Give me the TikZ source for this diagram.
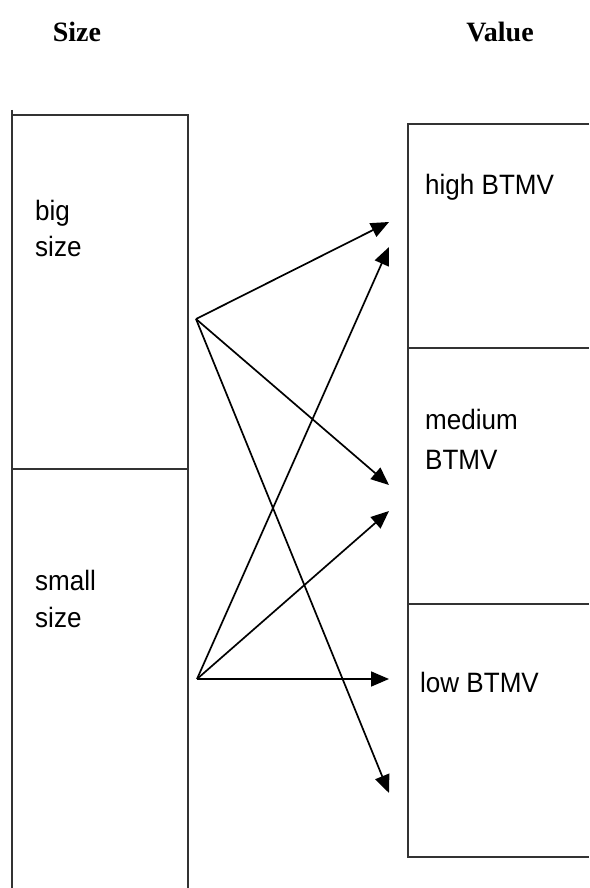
\documentclass[tikz,border=0pt]{standalone}
\usepackage{fontspec}
\setmainfont{Liberation Serif}
\newfontfamily\labelfont{Liberation Sans}
\usetikzlibrary{arrows.meta}
% narrow, tall label lettering
\newcommand{\narrowtext}[1]{\scalebox{0.93}[1]{#1}}
\begin{document}
\begin{tikzpicture}[x=1pt,y=-1pt,
  boxline/.style={line width=1.8pt,draw=black!80},
  link/.style={line width=1.7pt,-{Triangle[length=18pt,width=15pt]}},
  title/.style={font=\fontsize{28}{32}\selectfont\bfseries,anchor=base},
  cell/.style={font=\labelfont\fontsize{28}{32}\selectfont,anchor=base west,inner sep=0pt}]
\useasboundingbox (0,0) rectangle (589,888);

% column headings
\node[title] (hsize)  at (77,42)  {Size};
\node[title] (hvalue) at (500,42) {Value};

% size column (runs off the bottom edge)
\draw[boxline] (12,110) -- (12,888);
\draw[boxline] (12,115) -- (188,115) -- (188,888);
\draw[boxline] (12,469) -- (188,469);

% value column (runs off the right edge)
\draw[boxline] (589,124) -- (408,124) -- (408,857) -- (589,857);
\draw[boxline] (408,348) -- (589,348);
\draw[boxline] (408,604) -- (589,604);

% cell labels
\node[cell] (big1)   at (35,220)  {\narrowtext{big}};
\node[cell] (big2)   at (35,256)  {\narrowtext{size}};
\node[cell] (small1) at (35,590)  {\narrowtext{small}};
\node[cell] (small2) at (35,627)  {\narrowtext{size}};
\node[cell] (high)   at (425,194) {\narrowtext{high BTMV}};
\node[cell] (med1)   at (425,429) {\narrowtext{medium}};
\node[cell] (med2)   at (425,469) {\narrowtext{BTMV}};
\node[cell] (low)    at (420,692) {\narrowtext{low BTMV}};

% connector ends
\coordinate (bigsrc)   at (196,319);
\coordinate (smallsrc) at (197,679);
\coordinate (hiA)  at (389,222);
\coordinate (hiB)  at (389,247);
\coordinate (medA) at (389,485);
\coordinate (medB) at (389,511);
\coordinate (lowA) at (389,679);
\coordinate (lowB) at (389,793);

\draw[link] (bigsrc) -- (hiA);
\draw[link] (bigsrc) -- (medA);
\draw[link] (bigsrc) -- (lowB);
\draw[link] (smallsrc) -- (hiB);
\draw[link] (smallsrc) -- (medB);
\draw[link] (smallsrc) -- (lowA);
\end{tikzpicture}
\end{document}
